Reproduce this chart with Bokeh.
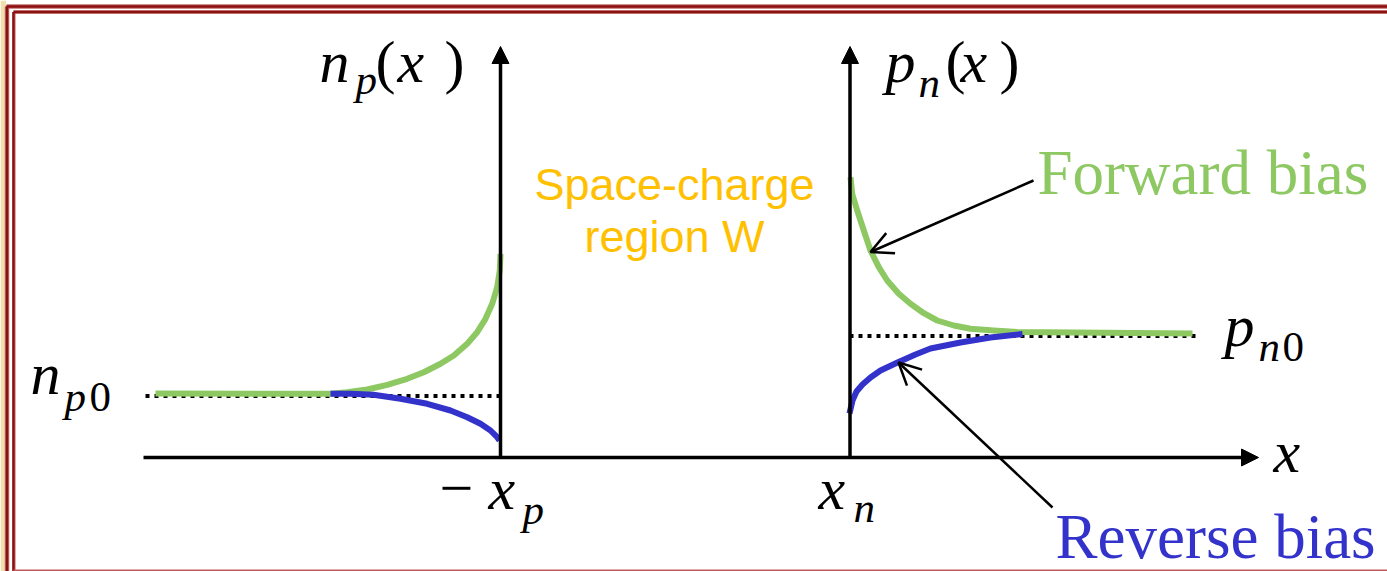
from bokeh.plotting import figure
from bokeh.models import Range1d, Arrow, NormalHead, OpenHead
from bokeh.core.properties import value
from bokeh.embed import file_html
from bokeh.resources import INLINE

W, H = 1387, 571

# Minority-carrier profiles, in canvas units (x to the right, y downward)
# p side: electrons n_p(x) left of -x_p
np_fwd_x = [155, 330, 346.7, 366.7, 386.7, 406.7, 423.3, 440, 453.3, 466.7, 476.7, 485, 491.7, 496.7, 499.3, 500]
np_fwd_y = [393, 393.3, 391.7, 389, 384.3, 378.3, 371.7, 363.3, 355, 343.3, 331.7, 318.3, 303.3, 286.7, 270, 253.3]
np_rev_x = [330, 350, 373, 400, 426.7, 450, 466.7, 480, 490, 496.7, 499]
np_rev_y = [393.3, 393.3, 394.3, 398.3, 403.3, 410, 416.7, 423.3, 430, 436.7, 440]
np0_level = 395.5
np0_span = [145, 500]

# n side: holes p_n(x) right of x_n
pn_fwd_x = [850, 851.7, 856.7, 863.3, 870, 878.3, 886.7, 898.3, 910, 923.3, 936.7, 953.3, 970, 993.3, 1016.7, 1192]
pn_fwd_y = [176.7, 193.3, 210, 230, 250, 266.7, 280, 293.3, 303.3, 312.7, 320, 325, 328.3, 330, 331.5, 333]
pn_rev_x = [849, 852, 856, 862, 870, 880, 897, 915, 930, 960, 990, 1022]
pn_rev_y = [413, 400, 391, 384, 377, 370, 362, 354, 348, 342, 337, 333.5]
pn0_level = 335.5
pn0_span = [849, 1200]

GREEN = "#8dc863"
BLUE = "#3333cc"
ORANGE = "#ffc000"
FRAME = "#8b1212"

p = figure(width=W, height=H, x_range=Range1d(0, W), y_range=Range1d(H, 0),
           output_backend="svg", toolbar_location=None, min_border=0,
           background_fill_color="white", border_fill_color="white")
p.axis.visible = False
p.grid.visible = False
p.outline_line_color = None

# slide frame
p.quad(left=[0], right=[5.5], top=[0], bottom=[H], fill_color="#f1dfae", line_color=None)
p.line([6.5, 6.5], [6, H], line_color="#c26a6a", line_width=4.5)
p.line([6, W], [6, 6], line_color="#c26a6a", line_width=4.5)
p.line([6.5, 6.5], [6, H], line_color=FRAME, line_width=2.5)
p.line([6, W], [6, 6], line_color=FRAME, line_width=2.5)
p.line([13.5, 13.5], [11.5, H], line_color="#d58f8f", line_width=3.5)
p.line([13, W], [11.5, 11.5], line_color="#c26a6a", line_width=3.5)
p.line([13, 13], [11.5, H], line_color=FRAME, line_width=2.5)
p.line([13, W], [11.5, 11.5], line_color=FRAME, line_width=2.5)
p.line([13, W], [570, 570], line_color="#c05a5a", line_width=2)

# equilibrium levels
p.line(np0_span, [np0_level, np0_level], line_color="black", line_width=4, line_dash="4 5")
p.line(pn0_span, [pn0_level, pn0_level], line_color="black", line_width=4, line_dash="4 5")

# carrier profiles
for xs, ys, c in [(np_fwd_x, np_fwd_y, GREEN), (np_rev_x, np_rev_y, BLUE),
                  (pn_fwd_x, pn_fwd_y, GREEN), (pn_rev_x, pn_rev_y, BLUE)]:
    p.line(xs, ys, line_color=c, line_width=6, line_join="round")

# axes with arrowheads
for xs, ys, xe, ye in [(143, 457, 1258, 457), (500, 457.5, 500, 46), (849.5, 457.5, 849.5, 46)]:
    p.add_layout(Arrow(end=NormalHead(size=17, fill_color="black", line_color="black", line_width=1),
                       x_start=xs, y_start=ys, x_end=xe, y_end=ye,
                       line_color="black", line_width=3.5))

# pointers to the curves
p.add_layout(Arrow(end=OpenHead(size=22, line_color="black", line_width=2.5),
                   x_start=1033, y_start=180, x_end=870, y_end=251.5,
                   line_color="black", line_width=2.5))
p.add_layout(Arrow(end=OpenHead(size=22, line_color="black", line_width=2.5),
                   x_start=1052, y_start=507, x_end=898, y_end=362,
                   line_color="black", line_width=2.5))

SERIF = value("Liberation Serif")


def txt(x, base, s, size, italic=True, color="black", font=SERIF, align="left"):
    # place the text so that its baseline sits at `base`
    y = base - (0.19 * size + 7.5)
    p.text(x=[x], y=[y], text=[s], text_font=font, text_font_size=f"{size}px",
           text_font_style="italic" if italic else "normal", text_color=color,
           text_baseline="alphabetic", text_align=align)


MAIN, SUB = 60, 43

# n_p(x)
txt(319, 80, "n", MAIN)
txt(355, 95, "p", SUB)
txt(375, 80, "(", MAIN, italic=False)
txt(397, 80, "x", MAIN)
txt(444, 80, ")", MAIN, italic=False)

# p_n(x)
txt(885, 80, "p", MAIN)
txt(918, 98, "n", SUB)
txt(945, 80, "(", MAIN, italic=False)
txt(960, 80, "x", MAIN)
txt(999, 80, ")", MAIN, italic=False)

# n_p0
txt(30, 392, "n", MAIN)
txt(64, 412, "p", SUB)
txt(89, 412, "0", SUB, italic=False)

# p_n0
txt(1224, 344, "p", MAIN)
txt(1258, 362, "n", SUB)
txt(1282, 362, "0", SUB, italic=False)

# -x_p and x_n
txt(439, 507, "\u2212", MAIN, italic=False)
txt(488, 507, "x", MAIN)
txt(522, 525, "p", SUB)
txt(818, 507, "x", MAIN)
txt(853, 523, "n", SUB)

# x axis label
txt(1273, 470, "x", MAIN)

# region and bias labels
SANS = value("Liberation Sans")
txt(674, 200, "Space-charge", 45, italic=False, color=ORANGE, font=SANS, align="center")
txt(674, 252, "region W", 45, italic=False, color=ORANGE, font=SANS, align="center")
txt(1037, 192, "Forward bias", 63, italic=False, color=GREEN)
txt(1055, 556, "Reverse bias", 63, italic=False, color=BLUE)

open("out.html", "w").write(file_html(p, INLINE))
